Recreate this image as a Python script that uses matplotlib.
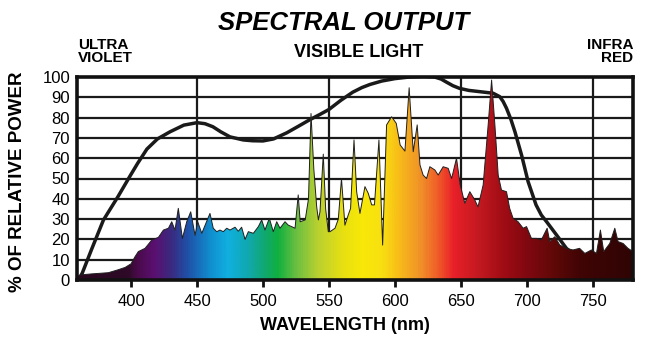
import numpy as np
import matplotlib
matplotlib.use('Agg')
import matplotlib.pyplot as plt
from matplotlib.colors import LinearSegmentedColormap
from matplotlib.patches import Polygon

# lamp spectrum (wavelength nm, % relative power)
spec_wl = [359, 361.4, 370, 382.8, 390, 395.5, 400, 403, 405.5, 410.6, 415.7, 420.7,
           424.5, 428.3, 430.8, 433.3, 435.8, 438.9, 442.2, 445.2, 448.5, 450.5, 453.6,
           459.8, 462.3, 464.9, 467.4, 469.9, 472.5, 475, 478.8, 481.3, 483.8, 486.4,
           488.9, 492.7, 496.5, 499, 501.5, 504.8, 507.8, 510.4, 512.9, 516.7, 519.2,
           521.7, 524.3, 526.7, 528.2, 532, 534.5, 536.4, 538.5, 540.7, 542, 543.2,
           545.7, 547.5, 549.5, 550.8, 554.6, 557.1, 559.5, 562.1, 564.6, 566.4, 569,
           571, 573.5, 577.3, 579.8, 582.4, 584.5, 587.9, 590.7, 593.7, 597.5, 601,
           604, 607.6, 610.8, 613.9, 616.9, 619, 621.4, 624, 626.5, 630.3, 632.8,
           636.6, 640.4, 643, 646.7, 649.5, 653, 656.8, 660.6, 663, 666.9, 670.7,
           673.3, 675.8, 678.3, 680.8, 684.6, 687, 689.6, 693.4, 697.2, 699.8, 703.5,
           707.3, 711, 715.4, 717.4, 721.2, 725, 730, 735, 740, 744, 749, 752.8,
           755.8, 758.3, 762.9, 766.7, 769.2, 773, 776.7, 780.5]
spec_pw = [1.5, 2.5, 3, 3.6, 5, 6.2, 8, 11.5, 14, 15.6, 19.7, 21,
           24.6, 25.5, 28.7, 24.6, 35.3, 20.5, 28.7, 33.6, 22, 28.7, 23,
           32.8, 25.5, 23.8, 24.6, 23.8, 25.5, 24.6, 26, 24, 26, 20,
           23.8, 23, 26.3, 29.6, 24.6, 30.4, 23.8, 28.7, 25.5, 28.7, 27,
           26.3, 25.5, 41.9, 28.7, 29.6, 40, 82, 55, 36.1, 29.6, 33.6,
           62, 35, 23.8, 23.8, 25.5, 30, 50, 27, 32, 35.3, 69,
           43.5, 32.8, 46, 42.7, 37, 37, 69, 17.2, 76.4, 80.4, 77.2,
           66.5, 63.5, 94.7, 63.2, 76.4, 56.7, 51.7, 50, 55.8, 54.2, 51.7,
           55.8, 55, 50, 60, 46.8, 37.8, 43.5, 39.4, 36, 46.8, 76.4,
           98.5, 76.4, 51.7, 44.3, 43.5, 35.3, 30.4, 28.7, 25.5, 26.3, 20.5,
           20.5, 19.7, 25.5, 18.9, 21.3, 17.2, 15.6, 14.8, 15.6, 13.1, 14.8, 13.1,
           24.6, 14, 18, 25.5, 18.9, 18, 15.6, 14]

# eye / plant response curve
curve_wl = [360, 363, 370, 379, 390, 399, 405, 412, 420, 429.5, 440, 450, 456, 462,
            468, 475, 485, 492, 500, 508, 518, 527, 535.6, 543, 550, 559, 568, 575,
            581, 590, 600, 611, 622, 630, 635, 639, 644, 649, 656, 664, 674.5, 679.5,
            682, 684.6, 688, 691, 696, 701, 707, 711, 715, 722.5, 730, 740, 750]
curve_val = [0, 3.4, 15, 29.5, 41, 51, 57.5, 64.5, 69.5, 73, 76.3, 77.5, 77, 75.5,
             73, 70.5, 69, 68.6, 68.5, 69.5, 72.5, 75.8, 79, 81.5, 84, 88.5, 92.5, 94.8,
             96.3, 98, 99.2, 100, 100.3, 100, 99, 97.5, 95.7, 94.4, 93.4, 92.8, 92, 90.3,
             88, 84.6, 79, 73, 61.6, 48.4, 37, 32, 28.7, 22.2, 15.6, 10, 6]

x_ticks = [400, 450, 500, 550, 600, 650, 700, 750]
y_ticks = [0, 10, 20, 30, 40, 50, 60, 70, 80, 90, 100]

# colour of the light at each wavelength
stops = [(359, '#2a0820'), (397, '#2e0a28'), (404, '#4a0a4a'), (417, '#5a1070'),
         (430, '#3a2a80'), (442, '#2050a8'), (460, '#1090d0'), (473, '#10b0e0'),
         (488, '#10a8b0'), (501, '#10a870'), (511, '#10b040'), (526, '#70c040'),
         (541, '#b8d030'), (561, '#e8e010'), (575, '#f8e808'), (590, '#f8e010'),
         (602, '#f8c018'), (620, '#f09028'), (632, '#f06028'), (645, '#e82028'),
         (666, '#c01820'), (683, '#a00c14'), (701, '#800810'), (721, '#600808'),
         (742, '#400404'), (780.5, '#300404')]

xmin, xmax = 359, 780.5
cmap = LinearSegmentedColormap.from_list(
    'spec', [((w - xmin) / (xmax - xmin), c) for w, c in stops])

plt.rcParams['font.family'] = ['Liberation Sans', 'DejaVu Sans']

fig = plt.figure(figsize=(6.65, 3.53), dpi=100)
ax = fig.add_axes([77 / 665, 1 - 280 / 353, 556 / 665, 203 / 353])
ax.set_xlim(xmin, xmax)
ax.set_ylim(0, 100)

# grid
for v in y_ticks[1:-1]:
    ax.axhline(v, color='#1a1a1a', lw=1.6, zorder=1)
for v in [450, 550, 650, 750]:
    ax.axvline(v, color='#1a1a1a', lw=1.6, zorder=1)

ax.plot(curve_wl, curve_val, color='#1a1a1a', lw=2.5, zorder=2,
        solid_capstyle='round', solid_joinstyle='round')

# rainbow fill clipped to spectrum shape
pts = [(xmin, 0)] + list(zip(spec_wl, spec_pw)) + [(xmax, 0)]
poly = Polygon(pts, closed=True, facecolor='none', edgecolor='none')
ax.add_patch(poly)
grad = np.linspace(0, 1, 600).reshape(1, -1)
im = ax.imshow(grad, cmap=cmap, aspect='auto', extent=(xmin, xmax, 0, 100),
               origin='lower', zorder=3)
im.set_clip_path(poly)
ax.plot(spec_wl, spec_pw, color='#202020', lw=0.7, zorder=4)

for s in ax.spines.values():
    s.set_linewidth(2.6)
    s.set_color('#111111')
    s.set_zorder(5)

ax.set_xticks(x_ticks)
ax.set_xticklabels([str(v) for v in x_ticks], fontsize=12)
ax.set_yticks(y_ticks)
ax.set_yticklabels([str(v) for v in y_ticks], fontsize=12)
ax.tick_params(axis='x', direction='out', length=5, width=2, pad=5, color='#111111')
ax.tick_params(axis='y', length=0, pad=5)

fig.text(0.517, 0.935, 'SPECTRAL OUTPUT', ha='center', va='center',
         fontsize=18.5, fontweight='bold', fontstyle='italic')
fig.text(0.540, 0.850, 'VISIBLE LIGHT', ha='center', va='center',
         fontsize=13, fontweight='bold')
fig.text(78 / 665, 0.855, 'ULTRA\nVIOLET', ha='left', va='center',
         fontsize=11, fontweight='bold', linespacing=0.88)
fig.text(633 / 665, 0.855, 'INFRA\nRED', ha='right', va='center',
         fontsize=11, fontweight='bold', linespacing=0.88, multialignment='right')
fig.text(0.027, 0.485, '% OF RELATIVE POWER', rotation=90, ha='center', va='center',
         fontsize=13.5, fontweight='bold')
fig.text(0.518, 1 - 325 / 353, 'WAVELENGTH (nm)', ha='center', va='center',
         fontsize=13, fontweight='bold')

fig.savefig('out.png', dpi=100)
